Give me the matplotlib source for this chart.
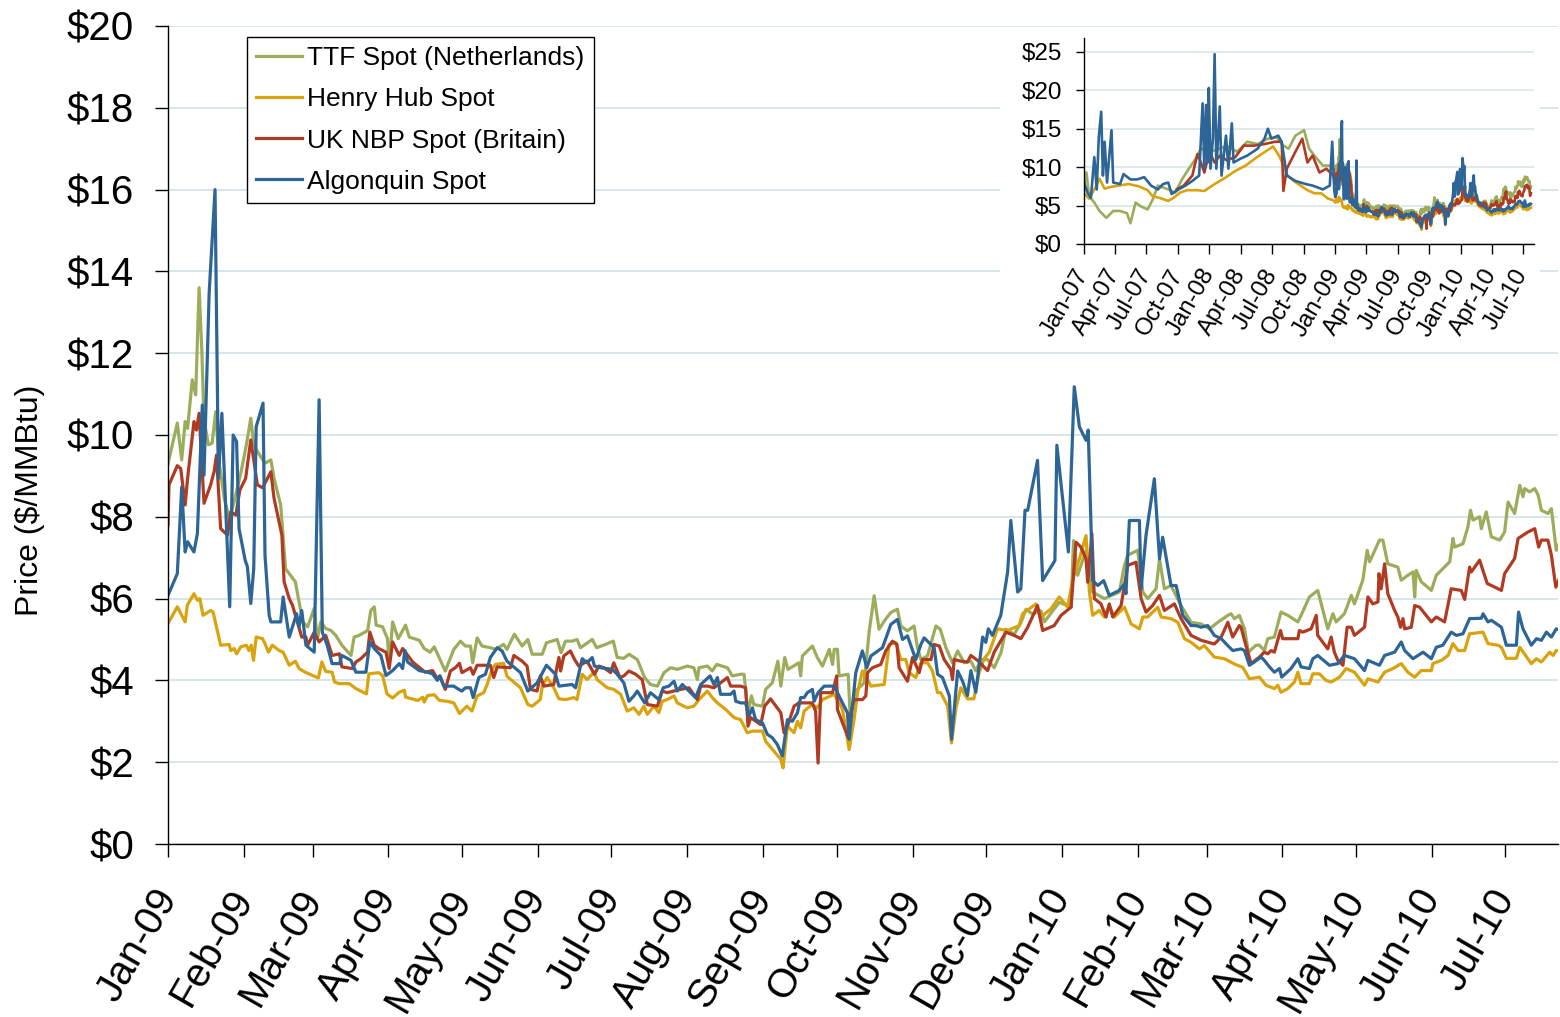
import matplotlib
matplotlib.use('Agg')
import matplotlib.pyplot as plt
from matplotlib.patches import Rectangle
from matplotlib.ticker import FuncFormatter, MultipleLocator
import numpy as np
import pandas as pd

plt.rcParams['font.family'] = ['Liberation Sans', 'DejaVu Sans']

# ---- main chart data: days since 2009-01-01, price in $/MMBtu ----
ttf_days = [0, 3.8, 5.6, 7, 8, 9.9, 11.3, 12.7, 13.8, 14.7, 16.5, 18, 19.5, 20.8, 23, 25, 27, 29.7, 32, 33.8,
            35, 37, 39.6, 42, 43.3, 46, 48, 50, 52, 55, 57, 59.7, 61, 62.4, 64.4, 66.5, 68.5, 71, 74.7, 76,
            78, 81.5, 82.8, 84.2, 85, 87.6, 89.6, 90.3, 91.7, 94, 97, 98.5, 102.6, 104.6, 107, 108.7, 110,
            113.2, 116.7, 119.4, 121.4, 123.5, 124.4, 126.2, 128.2, 131.6, 133.7, 137, 138.4, 141.4, 144.6, 146.9, 148.7, 152.8, 154.5, 158.9, 160.5,
            162.3, 165, 167, 168.4, 173.2, 175, 178.6, 181.8, 183.4, 186.1, 188.2, 191.6, 194.6, 197, 199.8, 202.5, 205.2, 207.9, 212, 214.7,
            216.1, 216.8, 220.2, 222.2, 224, 228.4, 230.4,
            233.8, 235.2, 236.8, 238.2, 239.2, 242.7, 244, 246.7, 249, 250.2, 251.8, 253.1, 257.6, 258.3, 259, 263.1, 265.1, 267.2, 270, 271.3,
            272, 273.3, 274, 277.7, 278.5, 280.8, 284.2, 286.3, 288.3, 290.3, 292.4, 295.1, 297.8, 299.2, 301.9, 304.6, 306, 307.4, 310.1, 313.5,
            315.3, 317.6, 320.3, 322.4, 325.1, 327.8, 329.8, 331.9, 334.6, 337.3, 340.1, 342.1, 345.5, 348.2, 350.3, 353, 356.4,
            357.8, 363.9, 368.7, 369.7, 371.4, 374.8, 377.5, 382.3, 388.4, 390.5, 391.8, 395.9, 398, 400, 403.4, 404.8, 406.8, 409.5, 413.6, 417.7,
            421.8, 425.2, 428.6, 432.7, 434, 435.4, 437.4,
            439.5, 441.1, 444.2, 445.6, 447.6, 449, 451.7, 454.4, 457.2, 461.3, 462.6, 466, 469.4, 473.5, 475.6, 476.9, 480.3, 483.1, 484.4, 487.8,
            489.6, 490.6, 494.6, 496, 498, 502.1, 503.5, 506.2, 508.3, 509, 509.6, 511.7, 515.8, 517.8, 523.3, 524.6, 525.3, 528.7, 530.7, 531.8,
            532.8, 535.5, 536.2, 538.2, 540.3, 543.7, 545.7, 547.1, 549.8, 551.9, 553.2, 553.9, 555.9, 558, 559.4, 560.7, 563.4, 564.8, 566.8, 568.9]
ttf_vals = [9.3, 10.29, 9.39, 10.33, 10.16, 11.35, 10.98, 13.6, 12.08, 10.37, 9.76, 9.8, 10.57, 9.35, 8.45, 7.96, 8.37, 9.06, 9.76, 10.41,
            9.76, 9.55, 9.31, 9.39, 8.94, 8.29, 6.73, 6.57, 6.41, 5.43, 5.31, 5.76, 5.02, 5.43, 5.27, 5.22, 5.1, 4.86, 4.61, 5.06,
            5.1, 5.22, 5.71, 5.8, 5.35, 5.31, 5.02, 4.37, 5.43, 5.02, 5.35, 5.06, 4.98, 4.78, 4.69, 4.82, 4.65,
            4.23, 4.76, 4.96, 4.84, 4.84, 4.43, 5.04, 4.84, 4.8, 4.76, 4.88, 4.76, 5.13, 4.84, 5.0, 4.64, 4.64, 4.92, 5.0, 4.68,
            4.96, 4.96, 5.0, 4.8, 5.0, 4.8, 4.88, 4.96, 4.56, 4.54, 4.64, 4.51, 4.07, 3.9, 3.86, 4.19, 4.31, 4.27, 4.35, 4.31,
            4.02, 4.31, 4.35, 4.23, 4.39, 4.31, 4.11,
            4.15, 4.15, 3.21, 3.62, 3.41, 3.37, 3.78, 3.94, 4.47, 3.86, 4.56, 4.27, 4.43, 4.11, 4.6, 4.84, 4.56, 4.35, 4.76, 4.39,
            4.76, 4.76, 4.11, 4.15, 3.13, 3.74, 3.94, 5.21, 6.07, 5.25, 5.45, 5.66, 5.74, 5.33, 5.21, 5.33, 4.8, 4.51, 4.6, 5.33,
            5.25, 4.8, 4.43, 4.72, 4.43, 4.47, 4.23, 4.51, 4.51, 4.31, 4.68, 5.25, 5.13, 5.41, 5.74, 5.62, 5.7,
            5.43, 5.91, 5.79, 7.42, 6.57, 7.18, 6.16, 6.0, 6.16, 6.81, 7.06, 7.18, 6.16, 6.0, 6.24, 6.97, 6.24, 6.32, 5.83, 5.42,
            5.38, 5.26, 5.42, 5.59, 5.63, 5.51, 5.59,
            5.26, 4.69, 4.86, 4.86, 4.73, 5.02, 5.06, 5.67, 5.59, 5.43, 5.59, 6.04, 6.2, 5.26, 5.63, 5.43, 5.63, 6.08, 5.87, 6.45,
            7.18, 6.9, 7.43, 7.43, 6.85, 6.77, 6.45, 6.57, 6.65, 6.04, 6.69, 6.41, 6.2, 6.57, 6.9, 7.47, 7.26, 7.34, 7.75, 8.16,
            7.92, 8.0, 7.71, 8.12, 7.51, 7.43, 7.63, 8.36, 8.08, 8.77, 8.49, 8.69, 8.61, 8.69, 8.53, 8.16, 8.08, 8.2, 7.18, 7.47]

hh_days = [0, 3.8, 7, 7.9, 10.6, 12, 13, 14.3, 17.4, 18.4, 21.5, 25, 25.6, 27, 28, 29.7, 32, 33, 34, 34.9,
           36, 38.6, 39.6, 41, 42.6, 45.4, 47, 49.5, 52, 53.5, 56, 61.4, 62.8, 64.4, 67, 68, 70, 74, 76.7, 81,
           82, 86, 87.6, 89.4, 91.7, 94.4, 96.5, 97, 102, 104, 104.6, 106, 108.7, 110.8,
           114, 116.7, 119, 122, 124.1, 126.2, 128.9, 130.3, 132.3, 133.7, 137, 138.4, 143.9, 146.9, 148.7, 152, 152.8, 154.8, 157.5, 159.6,
           162.3, 165.7, 167, 169.1, 171.1, 173.9, 175.2, 179.3, 182, 184.8, 187.5, 190.2, 192.3, 194.3, 195.7, 198.4, 200.4, 201.8, 203.8, 206.6,
           207.9, 212, 214.7, 216.8, 220.2, 222.2, 224.3, 227.7, 231.1,
           233.8, 236.5, 238.6, 242.7, 244, 247.4, 250.2, 251.1, 252.9, 255.6, 257, 258.3, 259.7, 263, 265.1, 267.2, 272, 273.3, 275.4, 278.1,
           280.1, 281.5, 283.5, 285.6, 287, 292.4, 294.4, 297.2, 299.2, 301.2, 302.6, 305.3, 307.4, 310.1, 312.1, 314.2, 315.5, 318.3, 319.9, 321.7,
           323.7,
           326.4, 329, 331.2, 333.2, 335.3, 338.7, 342.8, 347.5, 348.9, 354.4, 356.4, 360.5, 363.9, 367.3, 369.3, 372.1, 374.8, 376.2, 377.5, 380.2,
           382.3, 384.3, 386.4, 390.5, 393.2, 396.6, 398, 400, 404.1, 405.5, 409.5, 412.3, 415, 417.7, 421.1, 423.1, 427.2, 431.3, 435.4, 438.8,
           441.5, 445.6, 448.3, 451.7, 453.1, 454.4, 457.2, 459.9, 461.3, 462.6, 466, 467.4, 470.1, 472.8, 474.9, 478.3, 481, 484.4, 488.5, 489.9,
           494, 496.7, 500.1, 503.5, 506.2, 509, 511.7, 515.8, 516.4, 519.9, 522.6, 524.6, 526.7, 529.4, 531.4, 536.9, 538.9, 543, 544.4, 546.4,
           550.5, 551.9, 556.6, 558.7, 560.7, 564.1, 565.5, 566.8, 568.9]
hh_vals = [5.39, 5.8, 5.43, 5.84, 6.12, 5.96, 6.0, 5.59, 5.71, 5.67, 4.86, 4.88, 4.73, 4.78, 4.65, 4.82, 4.86, 4.73, 4.86, 4.49,
           5.06, 5.02, 4.9, 4.69, 4.86, 4.73, 4.69, 4.37, 4.47, 4.29, 4.2, 4.06, 4.45, 4.22, 4.2, 3.96, 3.92, 3.92, 3.8, 3.67,
           4.16, 4.19, 4.12, 3.67, 3.57, 3.71, 3.76, 3.59, 3.51, 3.59, 3.47, 3.63, 3.65, 3.51,
           3.49, 3.45, 3.19, 3.37, 3.25, 3.62, 3.7, 3.9, 4.27, 4.39, 4.42, 4.1, 3.82, 3.41, 3.37, 3.53, 3.86, 4.07, 3.82, 3.55,
           3.53, 3.58, 3.53, 4.15, 4.02, 4.2, 4.02, 3.82, 3.78, 3.66, 3.25, 3.33, 3.17, 3.37, 3.17, 3.37, 3.21, 3.49, 3.53, 3.62,
           3.45, 3.33, 3.37, 3.53, 3.74, 3.58, 3.45, 3.29, 3.09,
           3.04, 2.72, 2.76, 2.76, 2.51, 2.27, 2.07, 1.86, 2.88, 2.72, 3.0, 2.84, 3.25, 3.41, 3.33, 3.53, 3.66, 3.53, 3.29, 2.31,
           3.04, 3.7, 4.23, 4.02, 3.86, 3.9, 4.88, 4.92, 4.51, 4.51, 4.19, 4.07, 4.43, 4.43, 4.23, 3.7, 3.7, 3.37, 2.47, 3.33,
           3.82,
           3.55, 3.55, 4.2, 4.53, 4.69, 5.26, 5.22, 5.34, 5.63, 5.87, 5.55, 5.75, 6.04, 5.79, 6.44, 6.97, 7.54, 6.16, 5.59, 5.71,
           5.55, 5.83, 5.55, 5.79, 5.38, 5.26, 5.55, 5.55, 5.79, 5.55, 5.51, 5.42, 5.02, 4.93, 4.77, 4.85, 4.57, 4.53, 4.4, 4.32,
           4.04, 4.08, 3.88, 3.8, 3.88, 3.71, 3.8, 3.96, 4.2, 3.92, 3.92, 4.16, 4.16, 4.0, 3.96, 4.08, 4.29, 4.2, 3.88, 4.04,
           3.96, 4.2, 4.29, 4.41, 4.2, 4.08, 4.24, 4.24, 4.41, 4.49, 4.61, 4.9, 4.73, 4.73, 5.14, 5.18, 4.9, 4.86, 4.81, 4.54,
           4.54, 4.81, 4.41, 4.53, 4.45, 4.69, 4.61, 4.73, 4.73]

nbp_days = [0, 0.4, 3.8, 5.2, 7, 8, 10.6, 11.6, 12.7, 14.7, 17.4, 18.8, 19.8, 21.5, 24.3, 25.6, 27.7, 29.3, 31.7, 33.8,
            36.5, 38.6, 40.6, 42, 43.3, 46.5, 47.4, 49.5, 50.8, 54.6, 56.3, 57, 59.7, 61.7, 64.4, 67, 70, 71, 75.3, 76.7,
            78.7, 81.5, 82.4, 84.2, 86, 89, 90.3, 91.7, 94.4, 95.8, 99.9, 105, 108, 110,
            111, 113.2, 115.3, 117.3, 119, 120, 123.5, 124.6, 126.2, 131.6, 133, 134.4, 139.8, 141.2, 144.6, 146.6, 148, 150.7, 152, 153.4,
            157.5, 158.6, 159.6, 160.3, 161.6, 164.3, 166, 167.7, 171.1, 174.1, 175.9, 178, 180.7, 182, 184.5, 186.1, 188.2, 190.9, 193.6, 195.7,
            199.8, 201.8, 203.8, 206.6, 209.3, 212.7, 216.1, 217.5, 220.2, 222.9, 225.6, 228.4, 229.7,
            233.8, 235.8, 236.8, 237.9, 242, 243.6, 246, 250.2, 251.5, 252.9, 255.6, 257.6, 263, 264.4, 265.4, 266.5, 271.3, 273, 273.3, 277.7,
            278.8, 280.1, 283.5, 284.9, 285.6, 287.6, 291, 293, 295.8, 297.6, 298.5, 301.9, 304, 306.7, 308, 311.5, 312.8, 314.9, 316.9, 319.6,
            320.3, 321, 323.7,
            326.4, 327.8, 330.5, 334.6, 337.3, 342.1, 345.5, 348.2, 351, 355, 357.1, 361.8, 364.6, 368.7, 370.7, 372.7, 374.8, 375.5, 377.2, 378.2,
            380.9, 383, 384.3, 385.7, 389.1, 390.5, 391.8, 395.2, 397.3, 399.3, 402, 404.8, 406.8, 410.9, 413.6, 417.7, 421.8, 427.2, 430, 432.7,
            434.7, 437.4,
            438.1, 439.5, 442.2, 445.6, 447.6, 449, 450.4, 451.7, 454.2, 455.1, 461.3, 461.9, 463.3, 466.7, 468.8, 469.4, 473.5, 474.9, 476.2, 477.6,
            479.7, 481.4, 483.1, 484.4, 488.5, 489.9, 491.9, 494, 494.4, 495.3, 496.7, 498, 500.8, 502.1, 503.2, 504.2, 504.9, 507.6, 509, 511,
            515.8, 517.8, 521.2, 523.9, 528, 529.4, 531.4, 532.1, 535.5, 538.6, 543, 544.4, 545.7, 549.8, 551.2, 553.2, 555.3, 558, 559.6, 560.7,
            563.4, 564.8, 566.6, 568.9]
nbp_vals = [7.8, 8.78, 9.25, 9.18, 8.29, 8.94, 10.33, 10.12, 10.53, 8.33, 8.78, 9.1, 9.51, 7.71, 7.55, 8.12, 8.04, 8.65, 8.94, 9.88,
            8.78, 8.71, 8.94, 9.1, 8.45, 7.55, 6.41, 6.0, 5.84, 5.06, 5.06, 4.86, 5.18, 4.94, 5.1, 4.61, 4.65, 4.33, 4.29, 4.45,
            4.53, 4.69, 5.18, 4.86, 4.78, 4.69, 4.29, 4.94, 4.61, 4.78, 4.45, 4.2, 4.24, 4.04,
            4.11, 3.78, 4.23, 4.31, 4.42, 4.19, 4.31, 4.15, 4.37, 4.37, 4.07, 4.33, 4.31, 4.61, 4.47, 4.35, 3.78, 3.74, 4.11, 3.86,
            3.9, 4.27, 4.56, 4.23, 4.6, 4.72, 4.51, 4.35, 4.47, 4.15, 4.35, 4.31, 4.19, 4.43, 4.07, 4.11, 4.23, 4.15, 4.02, 3.41,
            3.37, 3.74, 3.7, 3.74, 3.78, 3.82, 3.53, 3.86, 3.86, 3.82, 3.94, 4.07, 3.86,
            3.86, 3.82, 2.88, 3.09, 2.92, 3.37, 3.55, 3.21, 2.72, 2.88, 3.37, 3.45, 3.45, 3.25, 1.98, 3.7, 3.7, 4.11, 3.29, 2.6,
            3.21, 3.53, 3.53, 3.62, 4.19, 4.31, 4.39, 4.72, 4.96, 4.88, 4.31, 3.98, 4.56, 4.19, 4.51, 4.51, 4.88, 4.84, 4.51, 4.27,
            4.02, 4.51, 4.47,
            4.45, 4.61, 4.49, 4.24, 4.69, 5.18, 5.1, 5.02, 5.3, 5.83, 5.22, 5.34, 5.59, 5.79, 7.38, 7.26, 6.97, 6.4, 7.59, 6.0,
            5.87, 5.55, 5.87, 5.55, 5.83, 6.32, 6.81, 6.89, 6.0, 5.67, 5.83, 6.08, 5.71, 5.87, 5.51, 5.1, 4.98, 4.89, 5.06, 5.42,
            5.06, 5.34,
            5.3, 4.98, 4.41, 4.57, 4.69, 4.65, 4.73, 4.69, 5.22, 5.02, 5.02, 5.22, 5.18, 5.26, 5.59, 5.1, 4.77, 5.06, 4.69, 4.49,
            4.37, 5.3, 5.3, 5.1, 5.3, 6.04, 5.87, 5.92, 6.61, 6.24, 6.85, 6.12, 5.71, 5.55, 5.3, 5.51, 5.26, 5.3, 5.83, 5.79,
            5.43, 5.55, 5.43, 6.24, 6.2, 5.98, 6.77, 6.65, 6.94, 6.37, 6.24, 6.2, 6.61, 6.98, 7.47, 7.55, 7.63, 7.71, 7.26, 7.43,
            7.43, 7.06, 6.28, 6.61]

alg_days = [0, 3.8, 5.6, 7, 8, 10.6, 12, 14, 14.7, 16.8, 19.2, 20.6, 22, 25.2, 26.6, 28, 29, 31.5, 32.4, 33.8,
            35, 36, 38.8, 39.6, 41.3, 42, 46, 47, 49.5, 52.5, 53.5, 54.6, 56.3, 59.7, 61.7, 63, 65, 67, 70, 71,
            74.7, 76.7, 80.8, 82.4, 84.2, 86.9, 89, 91.7, 94.4, 95.8, 96.7, 97.8, 102.6, 106, 108, 110,
            111, 112.6, 116.7, 118.7, 120, 121.4, 123.5, 124.6, 126.9, 129.6, 131.6, 134.4, 136.4, 138.4, 143.9, 146.9, 150.7, 154.5, 158.2, 159.6,
            165, 166.4, 169.1, 171.1, 173.2, 174.1, 176.6, 181.4, 183.4, 186.1, 188.2, 190.2, 191.6, 194.6, 197, 200.4, 202.2, 204.5, 206.6, 207.9,
            210, 212.7, 215.4, 217.5, 221.3, 222.9, 224.3, 225.6, 229.7, 231.1, 231.8,
            233.8, 235.8, 237.2, 238.6, 239.9, 242.7, 244.7, 246.7, 248.8, 250.8, 252.9, 254.9, 257, 258.3, 259.7, 261, 263.1, 263.8, 265.4, 267.9,
            272, 274.7, 277.4, 278.1, 280.8, 283.5, 285.3, 287, 291.7, 293.7, 295.1, 297.8, 299.9, 301.9, 305.3, 307.4, 308.7, 312.8, 314.2, 316.2,
            319, 319.9, 322.4, 324.4,
            326.4, 327.8, 329.8, 332.6, 333.9, 334.9, 336.6, 340, 342.8, 344.1, 346.9, 348.2, 349.9, 351, 355, 357.1, 362.1, 362.9, 367.6, 370,
            372.1, 374.8, 375.7, 377.5, 379.6, 382, 384.3, 388.4, 390.5, 391.1, 392.5, 396.6, 397.3, 399.3, 402.7, 404.8, 406.1, 409.5, 411.6, 414.3,
            417.7, 419.7, 421.8, 424.5, 427.2, 430, 432.7, 434.7, 438.1,
            439.5, 441.5, 443.5, 446.3, 447.6, 449.7, 451.7, 453.8, 454.7, 458.5, 461.3, 462.6, 466, 467.4, 469.4, 474.2, 477.6, 480.3, 484.4, 488.5,
            489.9, 494.6, 496.7, 500.8, 503.5, 504.9, 508.3, 512.4, 515.8, 517.8, 520.5, 523.9, 526, 528.7, 531.4, 536.2, 536.9, 538.9, 540.3, 544.4,
            546.4, 550.5, 551.4, 553.2, 556.6, 558.7, 560.7, 562.8, 564.8, 566.8, 568.9]
alg_vals = [6.08, 6.61, 8.73, 7.14, 7.39, 7.14, 7.59, 10.73, 9.02, 13.47, 16.0, 8.94, 10.53, 5.8, 10.0, 9.84, 7.71, 6.94, 6.78, 5.88,
            6.73, 10.2, 10.78, 7.06, 5.59, 5.43, 5.43, 6.04, 5.06, 5.63, 5.31, 5.71, 4.86, 4.69, 10.86, 5.18, 4.86, 4.41, 4.41, 4.61,
            4.49, 4.2, 4.2, 4.94, 4.78, 4.61, 4.12, 4.24, 4.41, 4.29, 4.73, 4.45, 4.24, 4.2, 4.16, 4.0,
            4.11, 3.86, 3.86, 3.78, 3.74, 3.82, 3.82, 3.58, 4.07, 4.15, 4.56, 4.8, 4.72, 4.47, 4.19, 3.74, 3.94, 4.37, 4.15, 3.86,
            3.9, 3.82, 4.53, 4.43, 4.56, 4.35, 4.31, 4.27, 4.15, 3.94, 3.49, 3.62, 3.74, 3.45, 3.7, 3.53, 3.82, 3.86, 3.98, 3.74,
            3.9, 3.74, 3.58, 3.9, 4.11, 3.9, 4.07, 3.66, 3.66, 3.74, 3.49,
            3.45, 3.45, 3.13, 3.33, 3.04, 2.96, 2.68, 2.6, 2.43, 2.15, 3.04, 3.0, 3.21, 3.58, 3.58, 3.7, 3.78, 3.49, 3.7, 3.86,
            3.86, 3.53, 3.21, 2.56, 4.19, 4.72, 4.31, 4.6, 4.8, 5.13, 5.37, 5.49, 5.0, 5.09, 4.51, 4.88, 5.04, 4.8, 4.15, 4.07,
            3.62, 2.56, 4.23, 3.98,
            3.63, 4.24, 3.71, 5.06, 4.93, 5.26, 5.1, 5.59, 6.65, 7.91, 6.16, 6.24, 8.16, 8.16, 9.38, 6.44, 6.93, 9.75, 7.14, 11.18,
            10.2, 9.87, 10.12, 6.44, 6.32, 6.44, 6.08, 6.2, 6.36, 6.12, 7.91, 7.91, 6.24, 7.55, 8.93, 6.97, 7.5, 6.32, 6.32, 5.59,
            5.34, 5.34, 5.3, 5.34, 5.1, 5.02, 4.85, 4.73, 4.77,
            4.73, 4.37, 4.45, 4.57, 4.49, 4.33, 4.2, 4.29, 4.08, 4.29, 4.53, 4.33, 4.29, 4.53, 4.61, 4.37, 4.41, 4.61, 4.53, 4.24,
            4.49, 4.37, 4.61, 4.69, 4.94, 4.73, 4.53, 4.69, 4.53, 4.81, 4.86, 5.18, 5.1, 5.14, 5.51, 5.52, 5.63, 5.43, 5.47, 5.3,
            4.86, 4.86, 5.67, 5.26, 4.86, 5.02, 4.98, 5.18, 5.06, 5.26, 5.22]

# ---- inset only: 2007-2008, days since 2007-01-01 ----
ttf_early_days = [0, 7, 15, 30, 45, 65, 85, 105, 125, 135, 150, 165, 185, 200, 215, 245, 265, 285, 305, 325,
                  340, 365, 395, 415, 445, 475, 505, 535, 560, 580, 595, 615, 640, 655, 670, 695, 720]
ttf_early_vals = [7.6, 9.3, 6.2, 5.4, 4.3, 3.4, 4.3, 4.3, 4.0, 2.7, 5.4, 4.9, 4.5, 5.8, 7.6, 7.1, 6.7, 8.4, 9.8, 11.1,
                  12.4, 12.0, 12.4, 12.8, 12.0, 13.3, 13.0, 13.7, 13.9, 12.8, 12.4, 14.1, 14.8, 12.4, 11.5, 10.2, 10.2]
hh_early_days = [0, 15, 35, 45, 60, 75, 100, 130, 160, 185, 200, 220, 245, 260, 280, 300, 330, 350, 380, 410,
                 440, 470, 500, 530, 550, 570, 590, 610, 630, 650, 670, 690, 710, 725]
hh_early_vals = [6.6, 5.9, 7.5, 8.5, 7.2, 7.4, 7.6, 7.8, 7.5, 7.0, 6.2, 6.0, 5.6, 6.0, 6.7, 7.0, 7.0, 6.9, 7.8, 8.6,
                 9.5, 10.2, 11.2, 12.1, 12.7, 11.3, 9.0, 8.2, 7.6, 7.0, 6.6, 6.6, 5.9, 5.7]
nbp_early_days = [270, 290, 315, 330, 340, 350, 365, 380, 395, 415, 440, 465, 495, 525, 555, 575, 580, 590, 615, 635,
                  650, 665, 685, 705, 725]
nbp_early_vals = [7.1, 7.6, 8.9, 11.7, 10.6, 9.3, 12.0, 10.6, 11.5, 10.9, 11.3, 12.8, 12.8, 13.0, 13.3, 13.3, 6.9, 9.8, 12.0, 13.7,
                  10.6, 11.5, 9.3, 9.8, 8.9]
alg_early_days = [0, 10, 20, 30, 37, 43, 50, 55, 60, 67, 80, 85, 105, 115, 135, 155, 175, 195, 215, 230,
                  245, 255, 275, 295, 315, 335, 345, 350, 355, 360, 363, 368, 375, 380, 385, 395, 400, 413, 420, 430,
                  435, 455, 475, 505, 525, 535, 545, 565, 575, 590, 615, 645, 665, 695, 715, 722, 728]
alg_early_vals = [8.0, 6.7, 6.0, 11.3, 7.1, 13.9, 17.2, 8.9, 13.3, 8.0, 14.8, 8.0, 7.8, 9.1, 8.4, 8.4, 8.7, 7.6, 7.1, 7.8,
                  8.0, 6.5, 7.1, 7.6, 8.2, 8.9, 18.3, 9.8, 18.1, 10.6, 20.3, 9.8, 13.7, 24.7, 9.8, 17.9, 8.9, 14.1, 9.8, 15.7,
                  10.6, 11.1, 11.5, 12.4, 13.7, 15.0, 13.7, 14.1, 13.3, 8.9, 8.2, 7.8, 7.6, 7.1, 7.6, 13.3, 7.0]

labels = ['TTF Spot (Netherlands)', 'Henry Hub Spot', 'UK NBP Spot (Britain)', 'Algonquin Spot']
colors = ['#9bad5a', '#d9a30e', '#b03b23', '#2d6597']


def to_dates(start, days):
    return pd.Timestamp(start) + pd.to_timedelta(np.array(days, dtype=float), unit='D')


def dollar(v, pos):
    return r'\$%d' % v


main = [(ttf_days, ttf_vals), (hh_days, hh_vals), (nbp_days, nbp_vals), (alg_days, alg_vals)]
early = [(ttf_early_days, ttf_early_vals), (hh_early_days, hh_early_vals),
         (nbp_early_days, nbp_early_vals), (alg_early_days, alg_early_vals)]

grid_c = '#d6e4e7'

fig = plt.figure(figsize=(15.6, 10.17), dpi=100)
ax = fig.add_axes([168 / 1560, 1 - 844 / 1017, 1390 / 1560, 818 / 1017])

for (d, v), lab, c in zip(main, labels, colors):
    ax.plot(to_dates('2009-01-01', d), v, color=c, lw=2.3, label=lab)

ax.set_ylim(0, 20)
ax.set_xlim(pd.Timestamp('2009-01-01'), pd.Timestamp('2010-07-22 12:00'))
ax.yaxis.set_major_locator(MultipleLocator(2))
ax.yaxis.set_major_formatter(FuncFormatter(dollar))
months = pd.date_range('2009-01-01', '2010-07-01', freq='MS')
ax.set_xticks(months)
ax.set_xticklabels([m.strftime('%b-%y') for m in months], rotation=60, ha='right', va='center',
                   rotation_mode='anchor')
ax.grid(axis='y', color=grid_c, lw=1.3)
ax.set_axisbelow(True)
for s in ['top', 'right']:
    ax.spines[s].set_visible(False)
for s in ['left', 'bottom']:
    ax.spines[s].set_color('black')
    ax.spines[s].set_linewidth(1.0)
ax.tick_params(axis='y', length=9.5, width=1, labelsize=29, pad=15)
ax.tick_params(axis='x', length=9.5, width=1, labelsize=29, pad=25)

fig.text(30 / 1560, 1 - 500 / 1017, r'Price (\$/MMBtu)', rotation=90, ha='center', va='center', fontsize=23)

leg = ax.legend(loc='upper left', bbox_to_anchor=(247 / 1560, 1 - 37 / 1017), bbox_transform=fig.transFigure,
                fontsize=19, fancybox=False, framealpha=1, edgecolor='black', borderpad=0.35,
                handlelength=1.75, handletextpad=0.18, labelspacing=0.65, borderaxespad=0)
leg.get_frame().set_linewidth(1.0)

# white box behind the inset chart
fig.add_artist(Rectangle((1000 / 1560, 1 - 352 / 1017), 540 / 1560, 322 / 1017, transform=fig.transFigure,
                         facecolor='white', edgecolor='none', zorder=1))

ins = fig.add_axes([1084 / 1560, 1 - 244 / 1017, 450 / 1560, 206 / 1017], zorder=2)
for (ed, ev), (d, v), c in zip(early, main, colors):
    dates = to_dates('2007-01-01', ed).append(to_dates('2009-01-01', d))
    ins.plot(dates, list(ev) + list(v), color=c, lw=1.9)

ins.set_ylim(0, 26.8)
ins.set_xlim(pd.Timestamp('2007-01-01'), pd.Timestamp('2010-08-02'))
ins.set_yticks([0, 5, 10, 15, 20, 25])
ins.yaxis.set_major_formatter(FuncFormatter(dollar))
quarters = pd.date_range('2007-01-01', '2010-07-01', freq='QS')
ins.set_xticks(quarters)
ins.set_xticklabels([q.strftime('%b-%y') for q in quarters], rotation=60, ha='right', va='center',
                    rotation_mode='anchor')
ins.grid(axis='y', color=grid_c, lw=1.1)
ins.set_axisbelow(True)
for s in ['top', 'right']:
    ins.spines[s].set_visible(False)
for s in ['left', 'bottom']:
    ins.spines[s].set_color('black')
    ins.spines[s].set_linewidth(1.0)
ins.tick_params(axis='y', length=6, width=1, labelsize=17.5, pad=10)
ins.tick_params(axis='x', length=7, width=1, labelsize=17.5, pad=12)

fig.savefig('out.png', dpi=100, facecolor='white')
